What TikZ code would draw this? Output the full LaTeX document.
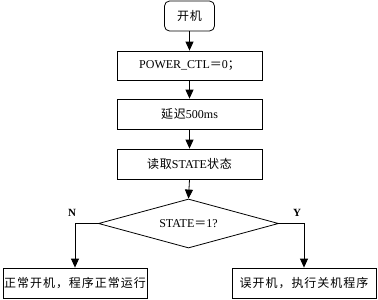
\documentclass[tikz,border=0pt]{standalone}
\usepackage{fontspec}
\setmainfont{Liberation Serif}
\newfontfamily\cjk[LetterSpace=8]{Noto Sans CJK SC}
\usetikzlibrary{shapes.geometric,arrows.meta}
\begin{document}
\begin{tikzpicture}[x=1pt,y=-1pt,
  box/.style={draw,line width=0.8pt,minimum height=30pt,inner sep=0pt,font=\fontsize{12}{14}\selectfont},
  arr/.style={line width=0.8pt,-{Triangle[width=8pt,length=9pt]}},
  lab/.style={font=\fontsize{11}{13}\selectfont\bfseries}]
\useasboundingbox (0,0) rectangle (378,300);
\node[box,rounded corners=5pt,minimum width=50pt] (start) at (189.5,16) {\cjk 开机};
\node[box,minimum width=145pt,minimum height=29pt] (p1) at (189.5,65.5) {POWER\_CTL{\cjk ＝}0{\cjk ；}};
\node[box,minimum width=145pt] (p2) at (189.5,114) {{\cjk 延迟}500ms};
\node[box,minimum width=145pt] (p3) at (189.5,164) {{\cjk 读取}STATE{\cjk 状态}};
\node[draw,line width=0.8pt,diamond,aspect=3.6,minimum width=180pt,minimum height=49pt,inner sep=0pt,font=\fontsize{12}{14}\selectfont] (d) at (188.5,223.5) {STATE{\cjk ＝}1?};
\node[box,minimum width=144pt] (l) at (75,283) {\cjk 正常开机，程序正常运行};
\node[box,minimum width=144pt] (r) at (304,283) {\cjk 误开机，执行关机程序};
\node[lab] (n) at (72,213) {N};
\node[lab] (y) at (297,213) {Y};
\draw[arr] (start) -- (p1);
\draw[arr] (p1) -- (p2);
\draw[arr] (p2) -- (p3);
\draw[arr] (p3.south) -- (d.north);
\draw[arr] (d.west) -| (l.north);
\draw[arr] (d.east) -| (r.north);
\end{tikzpicture}
\end{document}
